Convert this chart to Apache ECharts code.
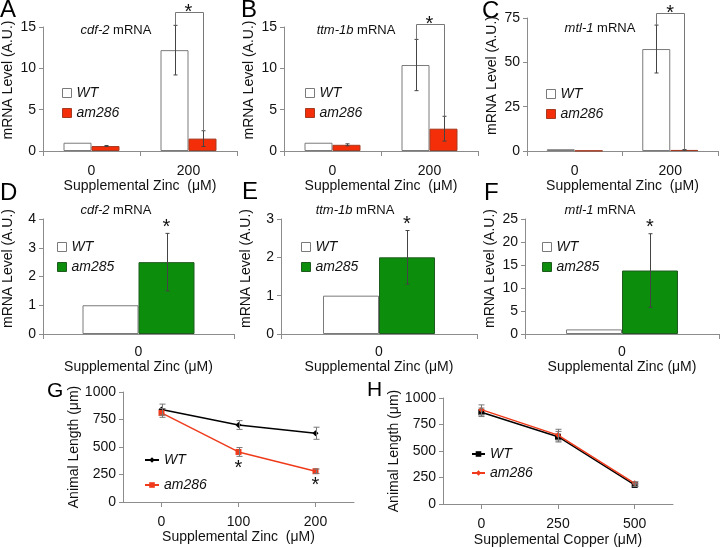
<!DOCTYPE html>
<html><head><meta charset="utf-8">
<script src="https://cdn.jsdelivr.net/npm/echarts@6/dist/echarts.min.js"></script>
<style>html,body{margin:0;padding:0;background:#fff}#c{width:720px;height:548px}</style>
</head><body><div id="c"></div>
<script>
// ---------------- data ----------------
const zincCats = ['0', '200'];
const zincOneCat = ['0'];
const zincLineCats = ['0', '100', '200'];
const copperCats = ['0', '250', '500'];

// A: cdf-2 mRNA
const cdf2_WT = [1.0, 12.2];       const cdf2_WT_err = [0, 3.0];
const cdf2_am286 = [0.6, 1.5];     const cdf2_am286_err = [0.06, 0.95];
// B: ttm-1b mRNA
const ttm_WT = [1.0, 10.4];        const ttm_WT_err = [0, 3.1];
const ttm_am286 = [0.75, 2.7];     const ttm_am286_err = [0.12, 1.5];
// C: mtl-1 mRNA
const mtl_WT = [1.0, 57.5];        const mtl_WT_err = [0, 13.5];
const mtl_am286 = [0.2, 0.6];      const mtl_am286_err = [0, 0.2];
// significance bracket heights (A, B, C)
const bracketTops = [16.8, 15.4, 77.8];

// D, E, F: am285 vs WT at 0 zinc
const cdf2_D_WT = [1.0];   const cdf2_D_am285 = [2.5];   const cdf2_D_am285_err = [1.0];
const ttm_E_WT = [1.0];    const ttm_E_am285 = [2.0];    const ttm_E_am285_err = [0.7];
const mtl_F_WT = [1.0];    const mtl_F_am285 = [13.8];   const mtl_F_am285_err = [8.0];

// G: animal length vs zinc
const zincLen_WT = [840, 700, 625];      const zincLen_WT_err = [50, 40, 55];
const zincLen_am286 = [810, 455, 280];   const zincLen_am286_err = [40, 40, 20];
const zincStarIdx = [1, 2];
// H: animal length vs copper
const copperLen_WT = [865, 635, 180];    const copperLen_WT_err = [40, 50, 15];
const copperLen_am286 = [890, 650, 195]; const copperLen_am286_err = [45, 55, 15];

// ---------------- style ----------------
const FONT = "'Liberation Sans', Arial, Helvetica, sans-serif";
const AX = '#8c8c8c';
const TXT = '#111';
const RED = '#f42e08', RED_B = '#a53a22';
const GREEN = '#0c8e0c', GREEN_B = '#1f5a1f';
const WT_B = '#7a7a7a';
const LRED = '#ef3b1c';

const grids = [
  {left: 42, top: 27, width: 195, height: 124},
  {left: 284, top: 27, width: 194, height: 124},
  {left: 527, top: 18, width: 191, height: 133},
  {left: 40, top: 219, width: 194, height: 115},
  {left: 281, top: 219, width: 196, height: 115},
  {left: 525, top: 219, width: 194, height: 115},
  {left: 123, top: 392, width: 231, height: 110},
  {left: 443, top: 398, width: 230, height: 106}
];

function xAx(i, cats, name, nameGap, margin, align) {
  return {gridIndex: i, type: 'category', data: cats, boundaryGap: true,
    axisLine: {show: true, lineStyle: {color: AX, width: 1}},
    axisTick: {show: true, alignWithLabel: align, length: 5, lineStyle: {color: AX}},
    axisLabel: {color: TXT, fontSize: 14, fontFamily: FONT, margin: margin},
    splitLine: {show: false},
    name: name, nameLocation: 'middle', nameGap: nameGap,
    nameTextStyle: {color: TXT, fontSize: 14, fontFamily: FONT}};
}
function yAx(i, max, interval, name, nameGap, shift) {
  return {gridIndex: i, type: 'value', min: 0, max: max, interval: interval,
    axisLine: {show: true, lineStyle: {color: AX}},
    axisTick: {show: true, length: 4, lineStyle: {color: AX}},
    axisLabel: {color: TXT, fontSize: 14, fontFamily: FONT, margin: 7, formatter: v => String(v)},
    splitLine: {show: false},
    name: name, nameLocation: 'middle', nameGap: nameGap,
    nameTextStyle: {color: TXT, fontSize: 14, fontFamily: FONT, padding: [0, 0, 0, shift]}};
}
function bar(name, i, data, color, border, width) {
  return {type: 'bar', name: name, xAxisIndex: i, yAxisIndex: i, data: data,
    barWidth: width, barGap: '0%', z: 2, emphasis: {disabled: true},
    itemStyle: {color: color, borderColor: border, borderWidth: 1}};
}
function errBars(i, vals, errs, offset, color, cap) {
  return {type: 'custom', xAxisIndex: i, yAxisIndex: i, silent: true, z: 6,
    data: vals.map((v, k) => [k, v, errs[k]]),
    encode: {x: 0, y: 1},
    renderItem: function (p, api) {
      const k = api.value(0), v = api.value(1), e = api.value(2);
      if (!e) return {type: 'group', children: []};
      const t = api.coord([k, v + e]), b = api.coord([k, Math.max(0, v - e)]);
      const x = Math.round(t[0] + offset) + 0.5;
      const st = {stroke: color, lineWidth: 1};
      return {type: 'group', children: [
        {type: 'line', shape: {x1: x, y1: t[1], x2: x, y2: b[1]}, style: st},
        {type: 'line', shape: {x1: x - cap, y1: t[1], x2: x + cap, y2: t[1]}, style: st},
        {type: 'line', shape: {x1: x - cap, y1: b[1], x2: x + cap, y2: b[1]}, style: st}
      ]};
    }};
}
function bracket(i, k, top, leftV, rightV, half) {
  return {type: 'custom', xAxisIndex: i, yAxisIndex: i, silent: true, z: 7, clip: false,
    data: [[k, top, leftV, rightV]],
    encode: {x: 0, y: 1},
    renderItem: function (p, api) {
      const c = api.value(0);
      const t = api.coord([c, api.value(1)]);
      const l = api.coord([c, api.value(2)]);
      const r = api.coord([c, api.value(3)]);
      const xl = Math.round(t[0] - half) + 0.5, xr = Math.round(t[0] + half) + 0.5;
      const yt = Math.round(t[1]) + 0.5;
      return {type: 'group', children: [
        {type: 'polyline', shape: {points: [[xl, l[1]], [xl, yt], [xr, yt], [xr, r[1]]]},
          style: {stroke: '#777', lineWidth: 1, fill: null}},
        {type: 'text', x: t[0], y: yt,
          style: {text: '*', fill: TXT, font: '20px ' + FONT, align: 'center', verticalAlign: 'middle'}}
      ]};
    }};
}
function stars(i, idxs, vals, errs, dir, offset, dy) {
  return {type: 'custom', xAxisIndex: i, yAxisIndex: i, silent: true, z: 7, clip: false,
    data: idxs.map(k => [k, vals[k] + dir * errs[k]]),
    encode: {x: 0, y: 1},
    renderItem: function (p, api) {
      const c = api.coord([api.value(0), api.value(1)]);
      return {type: 'text', x: c[0] + offset, y: c[1] + dy,
        style: {text: '*', fill: TXT, font: '20px ' + FONT, align: 'center', verticalAlign: 'middle'}};
    }};
}

const xAxes = [], yAxes = [], series = [];
const YN = 'mRNA Level (A.U.)';
// A-C
const top3 = [
  {wt: cdf2_WT, we: cdf2_WT_err, m: cdf2_am286, me: cdf2_am286_err, max: 15, int: 5},
  {wt: ttm_WT, we: ttm_WT_err, m: ttm_am286, me: ttm_am286_err, max: 15, int: 5},
  {wt: mtl_WT, we: mtl_WT_err, m: mtl_am286, me: mtl_am286_err, max: 75, int: 25}
];
top3.forEach((p, i) => {
  xAxes.push(xAx(i, zincCats, 'Supplemental Zinc  (\u03bcM)', 26, 13, false));
  yAxes.push(yAx(i, p.max, p.int, YN, 28, 18));
  series.push(bar('WT', i, p.wt, '#fff', WT_B, 28));
  series.push(bar('am286', i, p.m, RED, RED_B, 28));
  series.push(errBars(i, p.wt, p.we, -14, '#444', 2));
  series.push(errBars(i, p.m, p.me, 14, '#444', 2));
  series.push(bracket(i, 1, bracketTops[i], p.wt[1] + p.we[1], p.m[1] + p.me[1], 14));
});
// D-F
const mid3 = [
  {wt: cdf2_D_WT, m: cdf2_D_am285, me: cdf2_D_am285_err, max: 4, int: 1},
  {wt: ttm_E_WT, m: ttm_E_am285, me: ttm_E_am285_err, max: 3, int: 1},
  {wt: mtl_F_WT, m: mtl_F_am285, me: mtl_F_am285_err, max: 25, int: 5}
];
mid3.forEach((p, j) => {
  const i = j + 3;
  xAxes.push(xAx(i, zincOneCat, 'Supplemental Zinc (\u03bcM)', 26, 11, false));
  yAxes.push(yAx(i, p.max, p.int, YN, 28, 16));
  series.push(bar('WT', i, p.wt, '#fff', WT_B, 56));
  series.push(bar('am285', i, p.m, GREEN, GREEN_B, 56));
  series.push(errBars(i, p.m, p.me, 28, '#444', 2));
  series.push(stars(i, [0], p.m, p.me, 1, 28, -6));
});
// G
xAxes.push(xAx(6, zincLineCats, 'Supplemental Zinc  (\u03bcM)', 28, 13, true));
yAxes.push(yAx(6, 1000, 250, 'Animal Length (\u03bcm)', 38, 0));
series.push({type: 'line', name: 'WT\u00b7G', xAxisIndex: 6, yAxisIndex: 6, data: zincLen_WT,
  symbol: 'diamond', symbolSize: 6, lineStyle: {color: '#000', width: 1.5}, itemStyle: {color: '#000'}, z: 3});
series.push({type: 'line', name: 'am286\u00b7G', xAxisIndex: 6, yAxisIndex: 6, data: zincLen_am286,
  symbol: 'rect', symbolSize: 6, lineStyle: {color: LRED, width: 1.5}, itemStyle: {color: LRED}, z: 4});
series.push(errBars(6, zincLen_WT, zincLen_WT_err, 0, '#777', 3));
series.push(errBars(6, zincLen_am286, zincLen_am286_err, 0, '#777', 3));
series.push(stars(6, zincStarIdx, zincLen_am286, zincLen_am286_err, -1, 0, 12));
// H
xAxes.push(xAx(7, copperCats, 'Supplemental Copper (\u03bcM)', 29, 13, true));
yAxes.push(yAx(7, 1000, 250, 'Animal Length (\u03bcm)', 40, 0));
series.push({type: 'line', name: 'WT\u00b7H', xAxisIndex: 7, yAxisIndex: 7, data: copperLen_WT,
  symbol: 'rect', symbolSize: 6, lineStyle: {color: '#000', width: 1.5}, itemStyle: {color: '#000'}, z: 3});
series.push({type: 'line', name: 'am286\u00b7H', xAxisIndex: 7, yAxisIndex: 7, data: copperLen_am286,
  symbol: 'diamond', symbolSize: 6, lineStyle: {color: LRED, width: 1.5}, itemStyle: {color: LRED}, z: 4});
series.push(errBars(7, copperLen_WT, copperLen_WT_err, 0, '#777', 3));
series.push(errBars(7, copperLen_am286, copperLen_am286_err, 0, '#777', 3));

// legends
const legTxt = {fontSize: 14, fontStyle: 'italic', fontFamily: FONT, color: TXT, lineHeight: 18};
function barLegend(left, top, mutName, mutColor, mutBorder) {
  return {left: left, top: top, orient: 'vertical', padding: 0, itemGap: 2, itemWidth: 9, itemHeight: 9,
    selectedMode: false, textStyle: legTxt,
    data: [
      {name: 'WT', icon: 'rect', itemStyle: {color: '#fff', borderColor: WT_B, borderWidth: 1}},
      {name: mutName, icon: 'rect', itemStyle: {color: mutColor, borderColor: mutBorder, borderWidth: 1}}
    ]};
}
function lineLegend(left, top, gap, width, names) {
  return {left: left, top: top, orient: 'vertical', padding: 0, itemGap: gap, itemWidth: width, itemHeight: 7,
    selectedMode: false, textStyle: legTxt, formatter: n => n.split('\u00b7')[0],
    data: names};
}
const legends = [
  barLegend(62, 84, 'am286', RED, RED_B),
  barLegend(305, 84, 'am286', RED, RED_B),
  barLegend(546, 85, 'am286', RED, RED_B),
  barLegend(57, 238, 'am285', GREEN, GREEN_B),
  barLegend(301, 238, 'am285', GREEN, GREEN_B),
  barLegend(542, 238, 'am285', GREEN, GREEN_B),
  lineLegend(144, 451, 7, 14, ['WT\u00b7G', 'am286\u00b7G']),
  lineLegend(471, 445, 1, 13, ['WT\u00b7H', 'am286\u00b7H'])
];

// annotation text: panel letters & titles
function letter(t, x, y, size) {
  return {type: 'text', left: x, top: y, silent: true,
    style: {text: t, fill: '#000', font: size + 'px ' + FONT}};
}
function title(gene, cx, cy) {
  return {type: 'text', x: cx, y: cy, silent: true,
    style: {text: '{i|' + gene + '} mRNA', fill: TXT, font: '13px ' + FONT, align: 'center', verticalAlign: 'middle',
      rich: {i: {fontStyle: 'italic', fontSize: 13, fontFamily: FONT, fill: TXT}}}};
}
const graphics = [
  letter('A', 0, -2, 24), letter('B', 241, -2, 24), letter('C', 482, -1, 24),
  letter('D', 0, 181, 24), letter('E', 242, 180, 24), letter('F', 484, 181, 24),
  letter('G', 47, 381, 21), letter('H', 367, 380, 21),
  title('cdf-2', 116, 30), title('ttm-1b', 356, 30), title('mtl-1', 600, 28),
  title('cdf-2', 116, 210), title('ttm-1b', 355, 210), title('mtl-1', 600, 210)
];

const chart = echarts.init(document.getElementById('c'), null, {renderer: 'canvas'});
chart.setOption({
  animation: false,
  backgroundColor: '#fff',
  textStyle: {fontFamily: FONT},
  grid: grids.map(g => Object.assign({containLabel: false}, g)),
  xAxis: xAxes, yAxis: yAxes, legend: legends, series: series, graphic: graphics
});
</script></body></html>
